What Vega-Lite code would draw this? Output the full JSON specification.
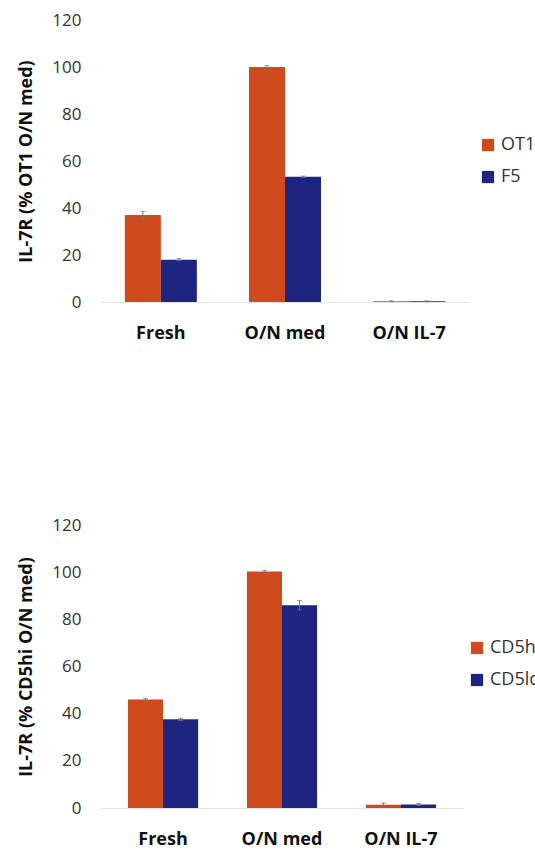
{
  "$schema": "https://vega.github.io/schema/vega-lite/v6.json",
  "background": "white",
  "padding": {"top": 11, "left": 17, "right": 0, "bottom": 0},
  "spacing": 174,
  "config": {
    "font": "Open Sans",
    "view": {"stroke": null},
    "axisY": {"grid": false, "domain": false, "ticks": false, "labelOverlap": false, "labelFontSize": 17, "labelColor": "#333333", "labelPadding": 19, "titleFontSize": 18, "titleFontWeight": "bold", "titleColor": "#111111", "titlePadding": 16},
    "axisX": {"grid": false, "ticks": false, "domainColor": "#e4e4e4", "domainWidth": 1, "labelFontSize": 18, "labelFontWeight": "bold", "labelColor": "#111111", "labelPadding": 22, "labelAngle": 0, "title": null},
    "legend": {"labelFontSize": 18, "labelColor": "#333333", "symbolType": "square", "symbolSize": 150, "symbolStrokeWidth": 0, "rowPadding": 14, "title": null}
  },
  "datasets": {
    "top": [
      {"condition": "Fresh", "group": "OT1", "value": 37, "err": 1.5},
      {"condition": "Fresh", "group": "F5", "value": 18, "err": 0.5},
      {"condition": "O/N med", "group": "OT1", "value": 100, "err": 0.6},
      {"condition": "O/N med", "group": "F5", "value": 53.3, "err": 0.3},
      {"condition": "O/N IL-7", "group": "OT1", "value": 0.3, "err": 0.2},
      {"condition": "O/N IL-7", "group": "F5", "value": 0.3, "err": 0.2}
    ],
    "bottom": [
      {"condition": "Fresh", "group": "CD5hi", "value": 46, "err": 0.5},
      {"condition": "Fresh", "group": "CD5lo", "value": 37.6, "err": 0.5},
      {"condition": "O/N med", "group": "CD5hi", "value": 100.3, "err": 0.5},
      {"condition": "O/N med", "group": "CD5lo", "value": 86, "err": 2},
      {"condition": "O/N IL-7", "group": "CD5hi", "value": 1.4, "err": 0.7},
      {"condition": "O/N IL-7", "group": "CD5lo", "value": 1.5, "err": 0.4}
    ]
  },
  "resolve": {"scale": {"color": "independent", "x": "independent", "xOffset": "independent", "y": "independent"}, "legend": {"color": "independent"}, "axis": {"x": "independent", "y": "independent"}},
  "vconcat": [
    {
      "width": 370,
      "height": 282,
      "data": {"name": "top"},
      "encoding": {
        "x": {"field": "condition", "type": "nominal", "sort": ["Fresh", "O/N med", "O/N IL-7"], "scale": {"paddingInner": 0.42, "paddingOuter": 0.2}},
        "xOffset": {"field": "group", "type": "nominal", "sort": ["OT1", "F5"], "scale": {"paddingInner": 0, "paddingOuter": 0}}
      },
      "layer": [
        {
          "mark": {"type": "bar"},
          "encoding": {
            "y": {"field": "value", "type": "quantitative", "title": "IL-7R (% OT1 O/N med)", "scale": {"domain": [0, 120]}, "axis": {"values": [0, 20, 40, 60, 80, 100, 120]}},
            "color": {"field": "group", "type": "nominal", "sort": ["OT1", "F5"], "scale": {"domain": ["OT1", "F5"], "range": ["#cf4a1c", "#1d2580"]}, "legend": {"orient": "none", "legendX": 379, "legendY": 116}}
          }
        },
        {
          "mark": {"type": "errorbar", "color": "#777777", "ticks": {"size": 5}},
          "encoding": {
            "y": {"field": "value", "type": "quantitative", "title": "IL-7R (% OT1 O/N med)"},
            "yError": {"field": "err"}
          }
        }
      ]
    },
    {
      "width": 364,
      "height": 283,
      "data": {"name": "bottom"},
      "encoding": {
        "x": {"field": "condition", "type": "nominal", "sort": ["Fresh", "O/N med", "O/N IL-7"], "scale": {"paddingInner": 0.41, "paddingOuter": 0.235}},
        "xOffset": {"field": "group", "type": "nominal", "sort": ["CD5hi", "CD5lo"], "scale": {"paddingInner": 0, "paddingOuter": 0}}
      },
      "layer": [
        {
          "mark": {"type": "bar"},
          "encoding": {
            "y": {"field": "value", "type": "quantitative", "title": "IL-7R (% CD5hi O/N med)", "scale": {"domain": [0, 120]}, "axis": {"values": [0, 20, 40, 60, 80, 100, 120]}},
            "color": {"field": "group", "type": "nominal", "sort": ["CD5hi", "CD5lo"], "scale": {"domain": ["CD5hi", "CD5lo"], "range": ["#cf4a1c", "#1d2580"]}, "legend": {"orient": "none", "legendX": 368, "legendY": 114}}
          }
        },
        {
          "mark": {"type": "errorbar", "color": "#777777", "ticks": {"size": 5}},
          "encoding": {
            "y": {"field": "value", "type": "quantitative", "title": "IL-7R (% CD5hi O/N med)"},
            "yError": {"field": "err"}
          }
        }
      ]
    }
  ]
}
